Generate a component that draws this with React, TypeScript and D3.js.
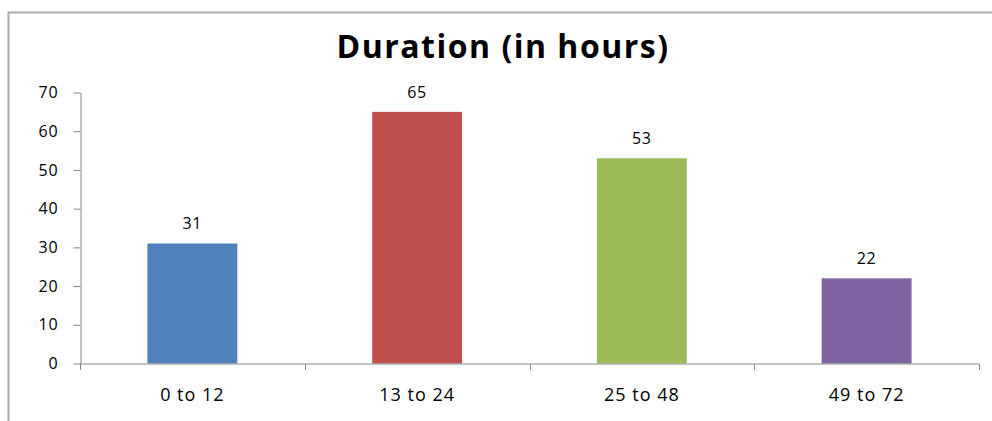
import React, { useEffect, useRef } from 'react';
import * as d3 from 'd3';

const categories = ['0 to 12', '13 to 24', '25 to 48', '49 to 72'];
const values = [31, 65, 53, 22];
const colors = ['#4F81BD', '#C0504D', '#9BBB59', '#8064A2'];
const yTicks = [0, 10, 20, 30, 40, 50, 60, 70];

const FONT = '"Open Sans", sans-serif';

export default function App() {
  const svgRef = useRef<SVGSVGElement>(null);

  useEffect(() => {
    const width = 992;
    const height = 421;
    const margin = { top: 92.5, right: 13, bottom: 57.5, left: 80 };

    const svg = d3.select(svgRef.current).attr('width', width).attr('height', height);
    svg.selectAll('*').remove();

    // chart frame (cropped on right/bottom)
    svg.append('rect')
      .attr('x', 8.5).attr('y', 12.5)
      .attr('width', 1100).attr('height', 600)
      .attr('fill', '#fff')
      .attr('stroke', '#aaa')
      .attr('stroke-width', 2);

    svg.append('text')
      .attr('x', 503)
      .attr('y', 58)
      .attr('text-anchor', 'middle')
      .style('font-family', FONT)
      .style('font-size', '32px')
      .style('font-weight', 'bold')
      .style('letter-spacing', '1.5px')
      .attr('fill', '#000')
      .text('Duration (in hours)');

    const x = d3.scaleBand()
      .domain(categories)
      .range([margin.left, width - margin.right])
      .padding(0);

    const y = d3.scaleLinear()
      .domain([0, 70])
      .range([height - margin.bottom, margin.top]);

    const barW = x.bandwidth() * 0.4;

    // y axis
    const yAxis = svg.append('g')
      .attr('transform', `translate(${margin.left + 0.5},0)`)
      .call(d3.axisLeft(y).tickValues(yTicks).tickSize(7).tickPadding(15).tickSizeOuter(0));
    yAxis.select('.domain').attr('stroke', '#868686');
    yAxis.selectAll('.tick line').attr('stroke', '#868686');
    yAxis.selectAll('.tick text')
      .style('font-family', FONT)
      .style('font-size', '16px')
      .style('letter-spacing', '0.8px')
      .attr('fill', '#000');

    // bars
    svg.append('g').selectAll('rect')
      .data(values)
      .join('rect')
      .attr('x', (d, i) => x(categories[i])! + (x.bandwidth() - barW) / 2)
      .attr('y', d => y(d))
      .attr('width', barW)
      .attr('height', d => y(0) - y(d))
      .attr('fill', (d, i) => colors[i]);

    // value labels
    svg.append('g').selectAll('text')
      .data(values)
      .join('text')
      .attr('x', (d, i) => x(categories[i])! + x.bandwidth() / 2)
      .attr('y', d => y(d) - 14)
      .attr('text-anchor', 'middle')
      .style('font-family', FONT)
      .style('font-size', '16px')
      .style('letter-spacing', '0.8px')
      .attr('fill', '#000')
      .text(d => d);

    // x axis with ticks at category boundaries
    const xg = svg.append('g').attr('transform', `translate(0,${y(0) + 0.5})`);
    xg.append('line')
      .attr('x1', margin.left).attr('x2', width - margin.right)
      .attr('stroke', '#868686');
    const bounds = [...categories.map(c => x(c)!), x.range()[1]];
    xg.selectAll('line.tk')
      .data(bounds)
      .join('line')
      .attr('class', 'tk')
      .attr('x1', d => Math.round(d) + 0.5).attr('x2', d => Math.round(d) + 0.5)
      .attr('y1', 0).attr('y2', 6)
      .attr('stroke', '#868686');
    xg.selectAll('text')
      .data(categories)
      .join('text')
      .attr('x', d => x(d)! + x.bandwidth() / 2)
      .attr('y', 37)
      .attr('text-anchor', 'middle')
      .style('font-family', FONT)
      .style('font-size', '18px')
      .style('letter-spacing', '1px')
      .attr('fill', '#000')
      .text(d => d);
  }, []);

  return (
    <svg ref={svgRef} style={{ position: 'absolute', left: 0, top: 0 }}></svg>
  );
}
